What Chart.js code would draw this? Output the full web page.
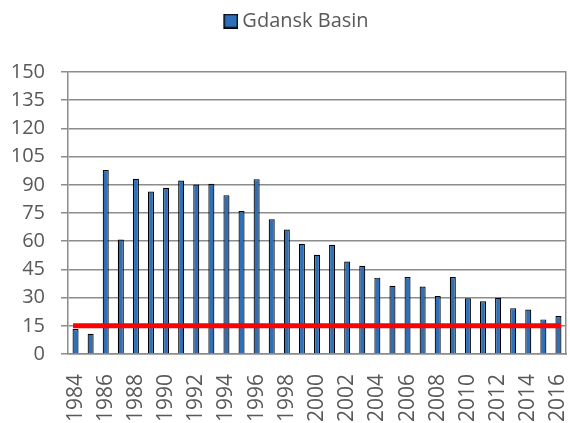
<!DOCTYPE html>
<html>
<head>
<meta charset="utf-8">
<script src="https://cdn.jsdelivr.net/npm/chart.js@4"></script>
<style>
  html, body { margin: 0; padding: 0; background: #ffffff; }
  #wrap { width: 570px; height: 423px; }
</style>
</head>
<body>
<div id="wrap"><canvas id="c" width="570" height="423"></canvas></div>
<script>
const years = ['1984','1985','1986','1987','1988','1989','1990','1991','1992','1993','1994',
  '1995','1996','1997','1998','1999','2000','2001','2002','2003','2004','2005','2006','2007',
  '2008','2009','2010','2011','2012','2013','2014','2015','2016'];
const gdanskBasin = [13.3, 10.8, 97.9, 60.9, 93.2, 86.4, 88.4, 92.3, 90.1, 90.5, 84.5,
  76.1, 93.0, 71.7, 66.2, 58.6, 52.8, 58.1, 49.2, 46.9, 40.6, 36.3, 40.9, 35.9,
  30.8, 40.9, 29.6, 28.0, 29.9, 24.4, 23.7, 18.4, 20.2];
const threshold = [15, 15, 15, 15, 15, 15, 15, 15, 15, 15, 15, 15, 15, 15, 15, 15, 15,
  15, 15, 15, 15, 15, 15, 15, 15, 15, 15, 15, 15, 15, 15, 15, 15];
const yTicks = [0, 15, 30, 45, 60, 75, 90, 105, 120, 135, 150];

const FONT = "'Open Sans', 'Liberation Sans', sans-serif";
const TEXT = '#595959';
const GRID = '#8c8c8c';
const BAR_FILL = '#2e6fb7';

// legend marker: square drawn at the right side of a wider canvas so the gap to the text is small
const marker = document.createElement('canvas');
marker.width = 27; marker.height = 15;
(function () {
  const g = marker.getContext('2d');
  g.fillStyle = BAR_FILL;
  g.fillRect(13, 1, 13, 13);
  g.strokeStyle = '#000000';
  g.lineWidth = 1.5;
  g.strokeRect(12.75, 0.75, 13.5, 13.5);
})();

// fixed band above the plot for the legend, and slight horizontal shift like the original
const legendBand = {
  id: 'legendBand',
  beforeUpdate(chart) {
    const lg = chart.legend;
    if (lg && !lg._bandPatched) {
      const orig = lg.fit;
      lg.fit = function () { orig.call(this); this.height = 72; };
      lg._bandPatched = true;
    }
  },
  afterLayout(chart) {
    const lg = chart.legend;
    if (lg) { lg.left += 8; lg.right += 8; }
  }
};

new Chart(document.getElementById('c'), {
  type: 'bar',
  data: {
    labels: years,
    datasets: [
      {
        label: 'Gdansk Basin',
        data: gdanskBasin,
        backgroundColor: BAR_FILL,
        borderColor: '#000000',
        borderWidth: 1.2,
        barPercentage: 0.4,
        categoryPercentage: 1.0,
        pointStyle: marker,
        order: 1
      },
      {
        type: 'line',
        label: 'Threshold',
        data: threshold,
        borderColor: '#ff0000',
        borderWidth: 5,
        pointRadius: 0,
        fill: false,
        borderCapStyle: 'square',
        order: 0
      }
    ]
  },
  plugins: [legendBand],
  options: {
    responsive: false,
    animation: false,
    layout: { padding: { top: 0, left: 0, right: 0, bottom: 0 } },
    plugins: {
      legend: {
        position: 'top',
        labels: {
          filter: (item) => item.datasetIndex === 0,
          color: TEXT,
          font: { family: FONT, size: 20 },
          usePointStyle: true,
          pointStyleWidth: 15,
          boxHeight: 15,
          padding: 11
        }
      },
      tooltip: { enabled: false }
    },
    scales: {
      x: {
        offset: true,
        grid: { display: false },
        border: { display: true, color: GRID, width: 1.5 },
        ticks: {
          autoSkip: false,
          maxRotation: 90,
          minRotation: 90,
          color: TEXT,
          font: { family: FONT, size: 21 },
          padding: 12,
          callback: (v, i) => (i % 2 === 0 ? years[i] : '')
        },
        afterFit: (s) => { s.height = 69; s.paddingLeft = 0; s.paddingRight = 0; }
      },
      y: {
        min: 0,
        max: 150,
        afterBuildTicks: (s) => { s.ticks = yTicks.map(v => ({ value: v })); },
        grid: { color: GRID, lineWidth: 1.5, tickLength: 7 },
        border: { display: true, color: GRID, width: 1.5 },
        ticks: {
          color: TEXT,
          font: { family: FONT, size: 20 },
          padding: 16
        },
        afterFit: (s) => { s.width = 68; s.paddingTop = 0; s.paddingBottom = 0; }
      },
      y2: {
        position: 'right',
        min: 0,
        max: 150,
        grid: { display: false },
        border: { display: true, color: GRID, width: 1.5 },
        ticks: { display: false },
        afterFit: (s) => { s.width = 4; }
      }
    }
  }
});
</script>
</body>
</html>
